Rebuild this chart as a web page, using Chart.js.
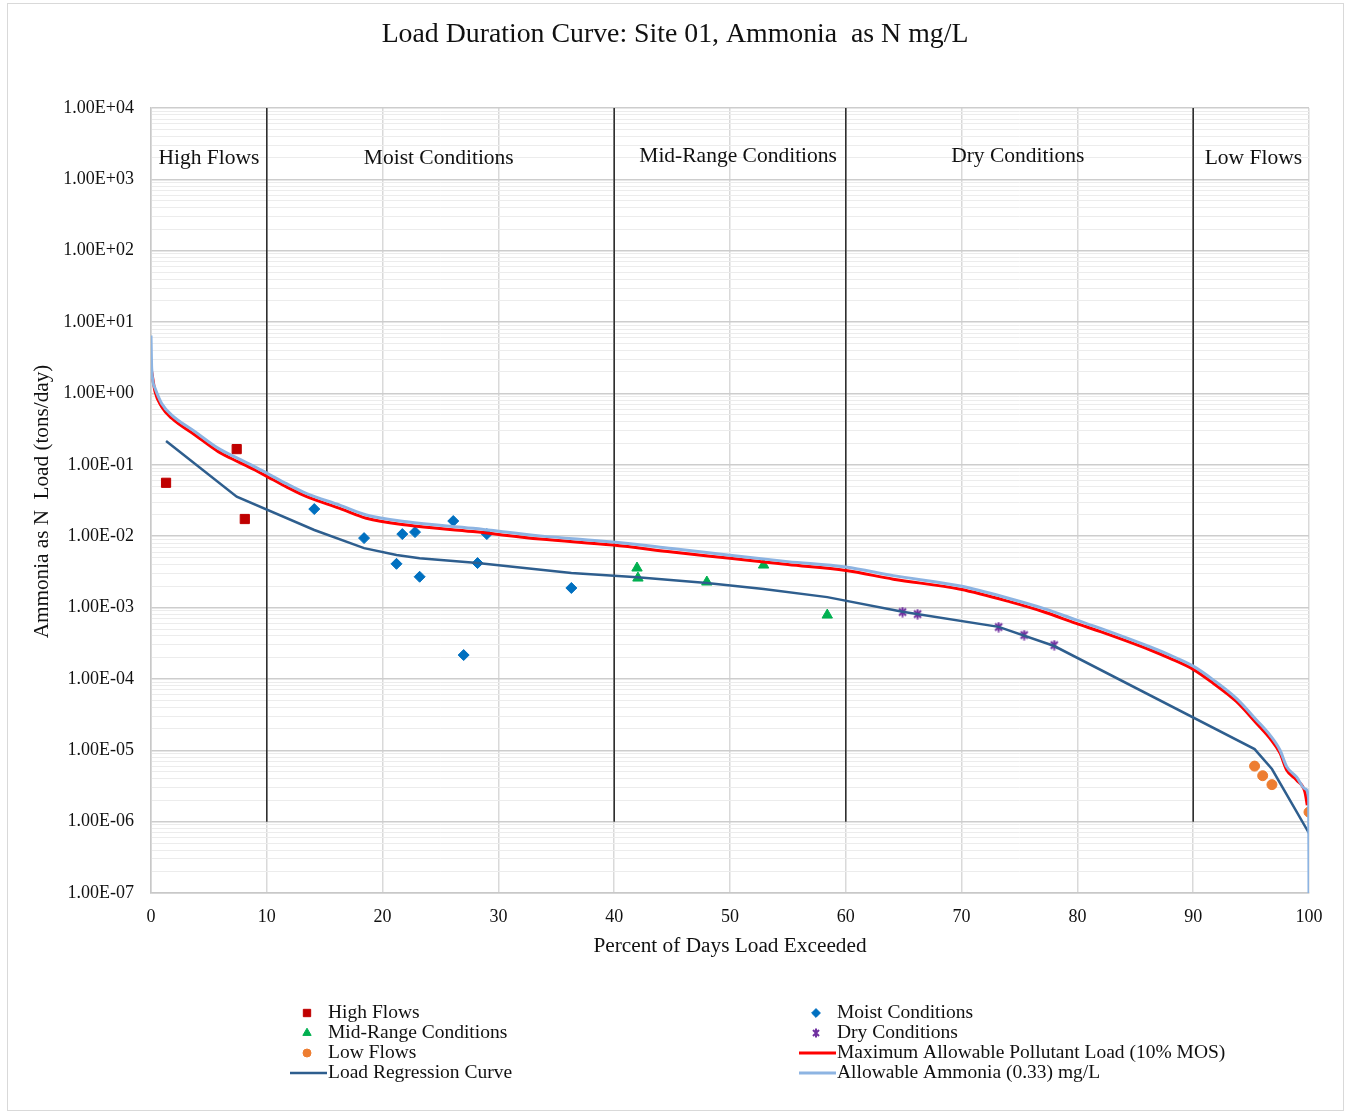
<!DOCTYPE html>
<html>
<head>
<meta charset="utf-8">
<title>Load Duration Curve: Site 01</title>
<script src="https://cdn.jsdelivr.net/npm/chart.js@4.4.0/dist/chart.umd.min.js"></script>
<style>
  html, body { margin: 0; padding: 0; background: #fff; }
  #frame { position: absolute; left: 7px; top: 3px; width: 1335px; height: 1106px; border: 1px solid #d9d9d9; }
  #wrap { position: absolute; left: 0; top: 0; width: 1348px; height: 1111px; }
</style>
</head>
<body>
<div id="frame"></div>
<div id="wrap"><canvas id="ldc" width="1348" height="1111"></canvas></div>
<script>
// --- observed samples, grouped by flow regime ---
const highFlowsX = [1.3, 7.4, 8.1];
const highFlowsY = [0.056, 0.166, 0.0174];

const moistX = [14.1, 18.4, 21.2, 21.7, 22.8, 23.2, 26.1, 27.0, 28.2, 29.0, 36.3];
const moistY = [0.024, 0.0094, 0.0041, 0.0107, 0.0114, 0.0027, 0.0163, 0.000216, 0.0042, 0.0107, 0.00188];

const midRangeX = [41.97, 42.05, 48.0, 52.9, 58.4];
const midRangeY = [0.00358, 0.00259, 0.00228, 0.00394, 0.000785];

const dryX = [64.9, 66.2, 73.2, 75.4, 78.0];
const dryY = [0.000865, 0.00081, 0.000533, 0.000412, 0.000298];

const lowFlowsX = [95.3, 96.0, 96.8, 100];
const lowFlowsY = [6.0e-6, 4.4e-6, 3.3e-6, 1.36e-6];

// --- load regression curve ---
const regressionX = [1.3, 7.4, 14.1, 18.4, 21.2, 23.2, 28.2, 36.3, 42.0, 48.0, 52.9, 58.4, 64.9, 73.2, 78.0, 95.3, 96.8, 100];
const regressionY = [0.215, 0.0357, 0.0122, 0.0068, 0.00545, 0.0049, 0.0042, 0.00305, 0.00265, 0.0022, 0.00182, 0.0014, 0.000875, 0.000536, 0.000289, 1.04e-5, 5.46e-6, 6.9e-7];

// --- maximum allowable load (10% MOS) ---
const mosX = [0.06, 0.35, 0.92, 1.79, 3.8, 5.81, 7.54, 8.98, 10, 11.7, 13.45, 16.3, 18.6, 22.1, 27.8, 33.6, 39.9, 45, 50, 55, 60, 64.1, 69.9, 74.2, 77, 79.9, 82, 86.3, 88, 90, 91.73, 93.75, 95.48, 96.63, 97.5, 98.07, 98.94, 99.65, 99.85];
const mosY = [2.02, 1.06, 0.652, 0.449, 0.262, 0.153, 0.11, 0.0845, 0.069, 0.049, 0.0357, 0.0245, 0.0178, 0.0143, 0.0116, 0.0091, 0.0075, 0.006, 0.0049, 0.004, 0.0033, 0.0025, 0.0018, 0.0012, 0.00088, 0.0006, 0.00046, 0.000254, 0.000194, 0.000136, 8.7e-5, 4.8e-5, 2.38e-5, 1.47e-5, 9.1e-6, 5.3e-6, 3.8e-6, 2.6e-6, 1.7e-6];

// --- allowable ammonia load at 0.33 mg/L ---
const allowableX = [0, 0.06, 0.35, 0.92, 1.79, 3.8, 5.81, 7.54, 8.98, 10, 11.7, 13.45, 16.3, 18.6, 22.1, 27.8, 33.6, 39.9, 45, 50, 55, 60, 64.1, 69.9, 74.2, 77, 79.9, 82, 86.3, 88, 90, 91.73, 93.75, 95.48, 96.63, 97.5, 98.07, 98.94, 99.65, 99.97, 100];
const allowableY = [6.5, 2.24, 1.18, 0.724, 0.498, 0.291, 0.17, 0.122, 0.0938, 0.0766, 0.0544, 0.0396, 0.0272, 0.0198, 0.0159, 0.0129, 0.0101, 0.0083, 0.0067, 0.0054, 0.0044, 0.0037, 0.0028, 0.002, 0.00133, 0.00098, 0.00067, 0.00051, 0.00028, 0.000215, 0.000151, 9.7e-5, 5.3e-5, 2.64e-5, 1.63e-5, 1.0e-5, 5.9e-6, 4.2e-6, 2.9e-6, 2.1e-6, 1e-7];

// --- regime boundaries and labels ---
const dividerX = [10, 40, 60, 90];
const dividerSpan = [1e-6, 1e4];
const regimeNames = ['High Flows', 'Moist Conditions', 'Mid-Range Conditions', 'Dry Conditions', 'Low Flows'];
const regimeCenters = [5, 24.85, 50.7, 74.85, 95.2];
const regimeLabelY = [1950, 1950, 2100, 2100, 1950];

// --- axes ---
const xTicks = [0, 10, 20, 30, 40, 50, 60, 70, 80, 90, 100];
const decades = [-7, -6, -5, -4, -3, -2, -1, 0, 1, 2, 3, 4];

const SERIF = '"Liberation Serif", "Times New Roman", serif';
const INK = '#111';

const pts = (xs, ys) => xs.map((x, i) => ({ x: x, y: ys[i] }));

function isDecade(v) {
  const l = Math.log10(v);
  return Math.abs(l - Math.round(l)) < 1e-9;
}
function sciLabel(v) {
  const e = Math.round(Math.log10(v));
  return '1.00E' + (e < 0 ? '-' : '+') + String(Math.abs(e)).padStart(2, '0');
}

// log ticks: 1..9 in every decade, labels only on the decades
const yTickValues = [];
decades.forEach(e => {
  for (let m = 1; m <= 9; m++) {
    if (e === decades[decades.length - 1] && m > 1) break;
    yTickValues.push(Number((m * Math.pow(10, e)).toPrecision(3)));
  }
});

// asterisk marker for the dry-condition samples
function makeStar(size, color) {
  const c = document.createElement('canvas');
  c.width = size; c.height = size;
  const g = c.getContext('2d');
  g.strokeStyle = color;
  g.lineWidth = 2;
  const m = 2;
  g.beginPath();
  g.moveTo(m, m); g.lineTo(size - m, size - m);
  g.moveTo(size - m, m); g.lineTo(m, size - m);
  g.moveTo(size / 2, 0.5); g.lineTo(size / 2, size - 0.5);
  g.stroke();
  return c;
}
const starMark = makeStar(11, '#7030A0');
const starMarkSmall = makeStar(10, '#7030A0');

const lineDs = (label, data, color, width, smooth) => ({
  label, data, showLine: true, borderColor: color, backgroundColor: color,
  borderWidth: width, pointRadius: 0, pointHoverRadius: 0, tension: 0,
  cubicInterpolationMode: smooth ? 'monotone' : 'default'
});
const markDs = (label, data, color, style, radius) => ({
  label, data, showLine: false, pointStyle: style, pointRadius: radius,
  pointHoverRadius: radius, backgroundColor: color, borderColor: color, borderWidth: 1
});

// first dataset is drawn on top
const datasets = [
  lineDs('Allowable Ammonia (0.33) mg/L', pts(allowableX, allowableY), '#8DB4E2', 3, true),
  lineDs('Maximum Allowable Pollutant Load (10% MOS)', pts(mosX, mosY), '#FF0000', 3, true),
  lineDs('Load Regression Curve', pts(regressionX, regressionY), '#2E5E8E', 2.5, false),
  markDs('Low Flows', pts(lowFlowsX, lowFlowsY), '#ED7D31', 'circle', 5),
  markDs('Dry Conditions', pts(dryX, dryY), '#7030A0', starMark, 6),
  markDs('Mid-Range Conditions', pts(midRangeX, midRangeY), '#00B050', 'triangle', 6),
  markDs('Moist Conditions', pts(moistX, moistY), '#0070C0', 'rectRot', 5.5),
  markDs('High Flows', pts(highFlowsX, highFlowsY), '#C00000', 'rect', 6.5)
];
dividerX.forEach(x => {
  datasets.push(lineDs('divider', pts([x, x], dividerSpan), '#262626', 1.5, false));
});

// legend layout: two columns, read row by row
const legendItems = [
  { label: 'High Flows', col: 0, row: 0 },
  { label: 'Moist Conditions', col: 1, row: 0 },
  { label: 'Mid-Range Conditions', col: 0, row: 1 },
  { label: 'Dry Conditions', col: 1, row: 1 },
  { label: 'Low Flows', col: 0, row: 2 },
  { label: 'Maximum Allowable Pollutant Load (10% MOS)', col: 1, row: 2 },
  { label: 'Load Regression Curve', col: 0, row: 3 },
  { label: 'Allowable Ammonia (0.33) mg/L', col: 1, row: 3 }
];

const textPlugin = {
  id: 'ldcText',
  afterDatasetsDraw(chart) {
    const { ctx, scales } = chart;
    ctx.save();
    ctx.font = '21.5px ' + SERIF;
    ctx.fillStyle = INK;
    ctx.textAlign = 'center';
    ctx.textBaseline = 'middle';
    regimeNames.forEach((name, i) => {
      ctx.fillText(name, scales.x.getPixelForValue(regimeCenters[i]), scales.y.getPixelForValue(regimeLabelY[i]));
    });
    ctx.restore();
  },
  afterDraw(chart) {
    const { ctx, chartArea } = chart;
    ctx.save();
    ctx.fillStyle = INK;
    ctx.textAlign = 'center';
    ctx.textBaseline = 'middle';

    ctx.font = '27.8px ' + SERIF;
    ctx.fillText('Load Duration Curve: Site 01, Ammonia  as N mg/L', 675, 35);

    ctx.font = '21.3px ' + SERIF;
    ctx.fillText('Percent of Days Load Exceeded', (chartArea.left + chartArea.right) / 2, 946);

    ctx.save();
    ctx.translate(42, (chartArea.top + chartArea.bottom) / 2 + 1);
    ctx.rotate(-Math.PI / 2);
    ctx.font = '21.2px ' + SERIF;
    ctx.fillText('Ammonia as N  Load (tons/day)', 0, 0);
    ctx.restore();

    // legend
    const colMark = [307, 816];
    const colText = [328, 837];
    const rowY = [1013, 1033, 1053, 1073];
    ctx.font = '19.5px ' + SERIF;
    ctx.textAlign = 'left';
    legendItems.forEach(item => {
      const ds = chart.data.datasets.find(d => d.label === item.label);
      const y = rowY[item.row];
      const xm = colMark[item.col];
      if (ds.showLine) {
        ctx.strokeStyle = ds.borderColor;
        ctx.lineWidth = ds.borderWidth;
        ctx.beginPath();
        ctx.moveTo(xm - 17, y);
        ctx.lineTo(colText[item.col] - 1, y);
        ctx.stroke();
      } else {
        ctx.fillStyle = ds.backgroundColor;
        ctx.strokeStyle = ds.borderColor;
        ctx.lineWidth = 1;
        const style = ds.pointStyle === starMark ? starMarkSmall : ds.pointStyle;
        Chart.helpers.drawPoint(ctx, {
          pointStyle: style, rotation: 0, radius: ds.pointRadius * 0.8, borderWidth: 1
        }, xm, y);
      }
      ctx.fillStyle = INK;
      ctx.fillText(item.label, colText[item.col], y);
    });
    ctx.restore();
  }
};

new Chart(document.getElementById('ldc'), {
  type: 'scatter',
  data: { datasets },
  plugins: [textPlugin],
  options: {
    responsive: false,
    animation: false,
    events: [],
    layout: { padding: { left: 0, top: 108, right: 39, bottom: 0 } },
    plugins: { legend: { display: false }, tooltip: { enabled: false }, title: { display: false } },
    scales: {
      x: {
        type: 'linear',
        min: 0, max: 100,
        afterFit: s => { s.height = 218; },
        afterBuildTicks: s => { s.ticks = xTicks.map(v => ({ value: v })); },
        ticks: { color: INK, font: { family: SERIF, size: 18 }, padding: 13, maxRotation: 0, autoSkip: false },
        grid: { color: '#d9d9d9', lineWidth: 1.5, drawTicks: false },
        border: { color: '#c8c8c8', width: 1.5 }
      },
      y: {
        type: 'logarithmic',
        min: 1e-7, max: 1e4,
        afterFit: s => { s.width = 151; },
        afterBuildTicks: s => { s.ticks = yTickValues.map(v => ({ value: v, major: isDecade(v) })); },
        ticks: {
          color: INK, font: { family: SERIF, size: 18 }, padding: 17, autoSkip: false,
          callback: v => (isDecade(v) ? sciLabel(v) : '')
        },
        grid: {
          drawTicks: false,
          color: c => (isDecade(c.tick.value) ? '#cdcdcd' : '#ececec'),
          lineWidth: c => (isDecade(c.tick.value) ? 1.5 : 1)
        },
        border: { color: '#c8c8c8', width: 1.5 }
      }
    }
  }
});
</script>
</body>
</html>
